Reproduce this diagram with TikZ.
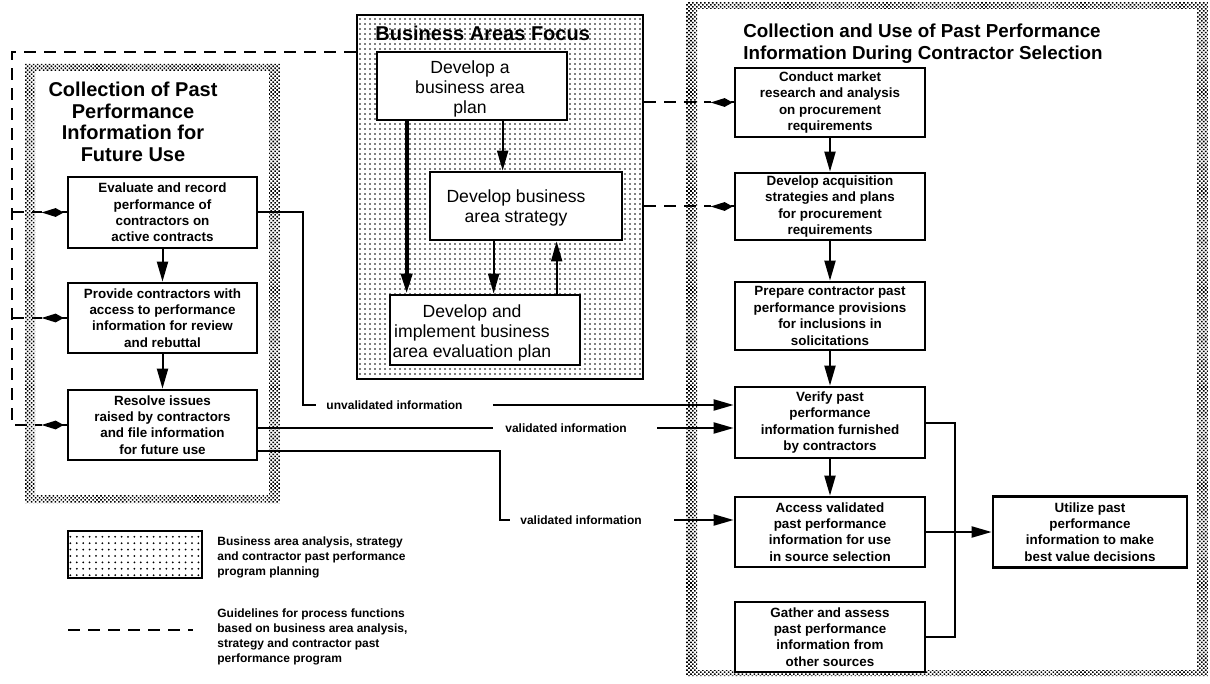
\documentclass[tikz,border=0pt]{standalone}
\usepackage{fontspec}
\setmainfont{Liberation Sans}
\usetikzlibrary{arrows.meta,patterns.meta,calc}
\begin{document}
\begin{tikzpicture}[x=0.5pt,y=-0.5pt,
  box/.style={draw, line width=1.35pt, fill=white, inner sep=0pt, align=center,
    font=\fontsize{6.7}{8.2}\selectfont\bfseries},
  cbox/.style={draw, line width=1.35pt, fill=white, inner sep=0pt},
  ctext/.style={inner sep=0pt, align=center, font=\fontsize{8.8}{10}\selectfont},
  flow/.style={line width=1pt, -{Triangle[length=10pt,width=5.5pt]}},
  link/.style={line width=1pt},
  guide/.style={line width=1pt, dash pattern=on 6pt off 4pt},
  kite/.style={line width=1pt, -{Kite[length=11pt,width=4.4pt,inset=4pt]}},
  lbl/.style={inner sep=0pt, font=\fontsize{6}{7}\selectfont\bfseries},
  dotfill/.style={pattern={Dots[distance=2.5pt,radius=0.45pt]}},
  sparsedots/.style={pattern={Dots[distance=3.2pt,radius=0.5pt]}},
  checker/.style={pattern={Dots[distance=1.4pt,radius=0.55pt,angle=45]}},
  title/.style={inner sep=0pt, font=\fontsize{10}{10.8}\selectfont\bfseries},
]
\useasboundingbox (0,0) rectangle (1210,684);

% textured frames of the two outer panels
\fill[checker, even odd rule] (25,64) rectangle (280,503) (35,71) rectangle (269,495);
\fill[checker, even odd rule] (686,2) rectangle (1208,676) (697,9) rectangle (1197,670);

% centre panel: business areas focus
\node[draw, line width=1.3pt, dotfill, minimum width=143pt, minimum height=182pt, inner sep=0pt] (focus) at (500,197) {};
\node[title, anchor=west] (focustitle) at (375,33) {Business Areas Focus};

\node[cbox, minimum width=95pt, minimum height=34pt] (plan) at (472,86) {};
\node[ctext] (plantext) at (470,89) {Develop a\\business area\\plan};
\node[cbox, minimum width=96pt, minimum height=34pt] (strategy) at (526,206) {};
\node[ctext] (strattext) at (516,208) {Develop business\\area strategy};
\node[cbox, minimum width=95pt, minimum height=35pt] (evalplan) at (485,330) {};
\node[ctext] (evaltext) at (472,333) {Develop and\\implement business\\area evaluation plan};

\draw[flow, line width=2pt] ([xshift=15.5pt]plan.south west) coordinate (pa) -- (pa |- evalplan.north);
\draw[flow] ([xshift=63.5pt]plan.south west) coordinate (pb) -- (pb |- strategy.north);
\draw[flow] ([xshift=32.5pt]strategy.south west) coordinate (pc) -- (pc |- evalplan.north);
\draw[flow] ([xshift=84pt]evalplan.north west) coordinate (pd) -- (pd |- strategy.south);

% left panel: collection for future use
\node[title, align=center] (lefttitle) at (133,122) {Collection of Past\\Performance\\Information for\\Future Use};
\node[box, minimum width=94.5pt, minimum height=35.5pt] (evaluate) at (162.5,212.5) {Evaluate and record\\performance of\\contractors on\\active contracts};
\node[box, minimum width=94.5pt, minimum height=35pt] (provide) at (162.5,318) {Provide contractors with\\access to performance\\information for review\\and rebuttal};
\node[box, minimum width=94.5pt, minimum height=35pt] (resolve) at (162.5,425) {Resolve issues\\raised by contractors\\and file information\\for future use};
\draw[flow] (evaluate.south) -- (provide.north);
\draw[flow] (provide.south) -- (resolve.north);

% right panel: use during contractor selection
\node[anchor=west, align=left, inner sep=0pt, font=\fontsize{9.4}{10.9}\selectfont\bfseries] (righttitle) at (743,44) {Collection and Use of Past Performance\\Information During Contractor Selection};
\node[box, minimum width=95pt, minimum height=34.5pt] (conduct) at (830,102.5) {Conduct market\\research and analysis\\on procurement\\requirements};
\node[box, minimum width=95pt, minimum height=33.5pt] (acquire) at (830,206.5) {Develop acquisition\\strategies and plans\\for procurement\\requirements};
\node[box, minimum width=95pt, minimum height=34pt] (prepare) at (830,316) {Prepare contractor past\\performance provisions\\for inclusions in\\solicitations};
\node[box, minimum width=95pt, minimum height=35.5pt] (verify) at (830,422.5) {Verify past\\performance\\information furnished\\by contractors};
\node[box, minimum width=95pt, minimum height=35pt] (access) at (830,532) {Access validated\\past performance\\information for use\\in source selection};
\node[box, minimum width=95pt, minimum height=35pt] (gather) at (830,637) {Gather and assess\\past performance\\information from\\other sources};
\node[box, minimum width=97pt, minimum height=35.5pt] (utilize) at (1090,532) {Utilize past\\performance\\information to make\\best value decisions};
\draw[flow] (conduct.south) -- (acquire.north);
\draw[flow] (acquire.south) -- (prepare.north);
\draw[flow] (prepare.south) -- (verify.north);
\draw[flow] (verify.south) -- (access.north);
\coordinate (bus) at (955,532);
\draw[link] (verify.east) -| (bus);
\draw[link] (gather.east) -| (bus);
\draw[flow] (access.east) -- (utilize.west);

% information passed between the panels
\node[lbl] (unval) at (394.5,405) {unvalidated information};
\node[lbl] (valA) at (566,428) {validated information};
\node[lbl] (valB) at (581,520) {validated information};
\coordinate (uc) at (303,405);
\draw[link] (evaluate.east) -| (uc) -- ([xshift=-5pt]unval.west);
\draw[flow] ([xshift=15pt]unval.east) -- (verify.west |- unval.east);
\draw[link] (resolve.east |- valA.west) -- ([xshift=-6pt]valA.west);
\draw[flow] ([xshift=15pt]valA.east) -- (verify.west |- valA.east);
\coordinate (vc) at (500,451);
\draw[link] (resolve.east |- vc) -- (vc) |- ([xshift=-5pt]valB.west);
\draw[flow] ([xshift=16pt]valB.east) -- (access.west |- valB.east);

% guidelines from the business areas focus
\coordinate (gl) at (12,52);
\coordinate (ke) at ([xshift=-12.5pt]evaluate.west);
\coordinate (kp) at ([xshift=-12.5pt]provide.west);
\coordinate (kr) at ([xshift=-12.5pt]resolve.west);
\draw[guide] (focus.west |- gl) -- (gl) -- (gl |- resolve.west) -- (kr);
\draw[guide] (gl |- evaluate.west) -- (ke);
\draw[guide] (gl |- provide.west) -- (kp);
\draw[kite] (evaluate.west) -- (ke);
\draw[kite] (provide.west) -- (kp);
\draw[kite] (resolve.west) -- (kr);
\coordinate (kc) at ([xshift=-11.5pt]conduct.west);
\coordinate (ka) at ([xshift=-11.5pt]acquire.west);
\draw[guide] (focus.east |- conduct.west) -- (kc);
\draw[guide] (focus.east |- acquire.west) -- (ka);
\draw[kite] (conduct.west) -- (kc);
\draw[kite] (acquire.west) -- (ka);

% legend
\node[draw, line width=1.3pt, sparsedots, minimum width=67pt, minimum height=23.5pt, inner sep=0pt] (legbox) at (135,554.5) {};
\node[anchor=west, align=left, inner sep=0pt, font=\fontsize{6}{7.5}\selectfont\bfseries] (legtextA) at (217,557) {Business area analysis, strategy\\and contractor past performance\\program planning};
\coordinate (legdashA) at (68,630);
\coordinate (legdashB) at (193,630);
\draw[guide] (legdashA) -- (legdashB);
\node[anchor=west, align=left, inner sep=0pt, font=\fontsize{6}{7.5}\selectfont\bfseries] (legtextB) at (217,637) {Guidelines for process functions\\based on business area analysis,\\strategy and contractor past\\performance program};
\end{tikzpicture}
\end{document}
